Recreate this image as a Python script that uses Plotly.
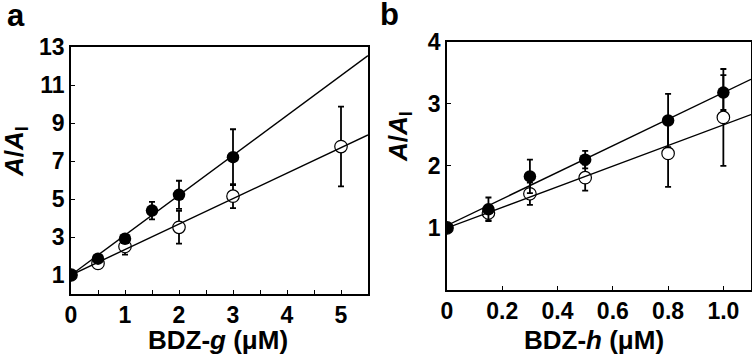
import plotly.graph_objects as go

W, H = 752, 357

# ---- data: panel a (BDZ-g) ----
a_x_filled = [0, 0.5, 1, 1.5, 2, 3]
a_y_filled = [1.0, 1.86, 2.91, 4.39, 5.22, 7.2]
a_err_filled = [0, 0.15, 0.2, 0.46, 0.74, 1.47]
a_x_open = [0, 0.5, 1, 2, 3, 5]
a_y_open = [1.0, 1.61, 2.5, 3.51, 5.15, 7.76]
a_err_open = [0, 0.12, 0.43, 0.86, 0.63, 2.1]
a_fit_intercept = [1.0, 1.0]   # filled, open
a_fit_slope = [2.10, 1.34]
a_xrange = [0, 5.5]
a_yrange = [0, 13]
a_xtick_vals = [0, 0.5, 1, 1.5, 2, 2.5, 3, 3.5, 4, 4.5, 5]
a_xtick_text = ["0", "", "1", "", "2", "", "3", "", "4", "", "5"]
a_ytick_vals = [1, 3, 5, 7, 9, 11, 13]

# ---- data: panel b (BDZ-h) ----
b_x = [0, 0.15, 0.3, 0.5, 0.8, 1.0]
b_y_filled = [1.0, 1.30, 1.83, 2.10, 2.73, 3.18]
b_err_filled = [0, 0.19, 0.27, 0.14, 0.43, 0.28]
b_y_open = [1.0, 1.24, 1.55, 1.81, 2.2, 2.78]
b_err_open = [0, 0.12, 0.18, 0.21, 0.54, 0.78]
b_fit_intercept = [1.04, 1.0]
b_fit_slope = [2.14, 1.66]
b_xrange = [0, 1.1]
b_yrange = [0, 4]
b_xtick_vals = [0, 0.2, 0.4, 0.6, 0.8, 1.0]
b_xtick_text = ["0", "0.2", "0.4", "0.6", "0.8", "1.0"]
b_ytick_vals = [1, 2, 3, 4]

FONT = "Liberation Sans"

fig = go.Figure()


def add_panel(xa, ya, x_open, y_open, e_open, x_filled, y_filled, e_filled,
              intercepts, slopes, xrange):
    fig.add_trace(go.Scatter(
        x=x_open, y=y_open, mode="markers", xaxis=xa, yaxis=ya,
        marker=dict(symbol="circle", size=12.5, color="white",
                    line=dict(color="black", width=1.2)),
        error_y=dict(type="data", array=e_open, color="black",
                     thickness=1.8, width=3),
        showlegend=False))
    fig.add_trace(go.Scatter(
        x=x_filled, y=y_filled, mode="markers", xaxis=xa, yaxis=ya,
        marker=dict(symbol="circle", size=12.5, color="black",
                    line=dict(color="black", width=0)),
        error_y=dict(type="data", array=e_filled, color="black",
                     thickness=1.8, width=3),
        showlegend=False))
    for b0, m in zip(intercepts, slopes):
        fig.add_trace(go.Scatter(
            x=list(xrange), y=[b0 + m * v for v in xrange], mode="lines",
            xaxis=xa, yaxis=ya, line=dict(color="black", width=1.4),
            showlegend=False))


add_panel("x", "y", a_x_open, a_y_open, a_err_open, a_x_filled, a_y_filled,
          a_err_filled, a_fit_intercept, a_fit_slope, a_xrange)
add_panel("x2", "y2", b_x, b_y_open, b_err_open, b_x, b_y_filled,
          b_err_filled, b_fit_intercept, b_fit_slope, b_xrange)

axis_common = dict(showline=True, mirror=True, linecolor="black", linewidth=1.6,
                   ticks="inside", ticklen=4, tickwidth=1.4, tickcolor="black",
                   showgrid=False, zeroline=False, automargin=False,
                   tickfont=dict(family=FONT, size=23, color="black", weight="bold"))


def px_x(p):
    return p / W


def px_y(p):
    return 1 - p / H


fig.update_layout(
    width=W, height=H, margin=dict(l=0, r=0, t=0, b=0),
    paper_bgcolor="white", plot_bgcolor="white",
    xaxis=dict(domain=[px_x(71), px_x(368)], range=a_xrange, anchor="y",
               tickvals=a_xtick_vals, ticktext=a_xtick_text, **axis_common),
    yaxis=dict(domain=[px_y(294), px_y(47)], range=a_yrange, anchor="x",
               tickvals=a_ytick_vals, **axis_common),
    xaxis2=dict(domain=[px_x(447), px_x(751)], range=b_xrange, anchor="y2",
                tickvals=b_xtick_vals, ticktext=b_xtick_text, **axis_common),
    yaxis2=dict(domain=[px_y(290), px_y(41.7)], range=b_yrange, anchor="x2",
                tickvals=b_ytick_vals, **axis_common),
)

title_font = dict(family=FONT, size=26, color="black", weight="bold")
annos = [
    dict(text="a", x=px_x(16), y=px_y(16), font=dict(family=FONT, size=31, color="black", weight="bold")),
    dict(text="b", x=px_x(390), y=px_y(15), font=dict(family=FONT, size=31, color="black", weight="bold")),
    dict(text="BDZ-<i>g</i> (μM)", x=px_x(218), y=px_y(340), font=title_font),
    dict(text="BDZ-<i>h</i> (μM)", x=px_x(594), y=px_y(340), font=title_font),
    dict(text="<i>A</i>/<i>A</i><sub>I</sub>", x=px_x(15), y=px_y(152), textangle=-90, font=title_font),
    dict(text="<i>A</i>/<i>A</i><sub>I</sub>", x=px_x(399), y=px_y(137), textangle=-90, font=title_font),
]
for a in annos:
    fig.add_annotation(xref="paper", yref="paper", showarrow=False,
                       xanchor="center", yanchor="middle", **a)

# remove the browser's default 8px body margin so the figure fills the window
fig.write_html("out.html", config={"displayModeBar": False},
               post_script="document.body.style.margin='0';document.body.style.overflow='hidden';")
